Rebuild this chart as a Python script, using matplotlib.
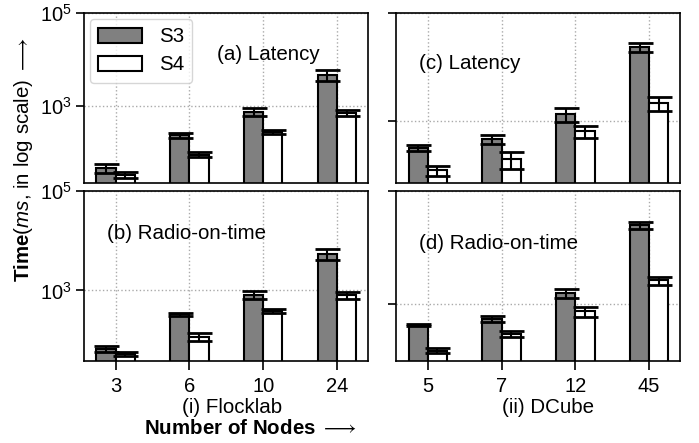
import matplotlib
matplotlib.use('Agg')
import matplotlib.pyplot as plt
import numpy as np

plt.rcParams['font.family'] = ['Liberation Sans', 'DejaVu Sans']
plt.rcParams['mathtext.fontset'] = 'custom'
plt.rcParams['mathtext.rm'] = 'Liberation Sans'
plt.rcParams['mathtext.it'] = 'Liberation Sans:italic'
plt.rcParams['mathtext.bf'] = 'Liberation Sans:bold'

# node counts per testbed
flock_nodes = ['3', '6', '10', '24']
dcube_nodes = ['5', '7', '12', '45']

# (a) flocklab latency
lat_fl_s3 = [46, 236, 740, 4560]
lat_fl_s3_err = [9.5, 29, 150, 1220]
lat_fl_s4 = [33, 89, 276, 714]
lat_fl_s4_err = [4.7, 12, 27, 106]

# (b) flocklab radio-on-time
rot_fl_s3 = [67, 330, 815, 5490]
rot_fl_s3_err = [10, 28, 155, 1320]
rot_fl_s4 = [53.5, 118, 391, 803]
rot_fl_s4_err = [5, 22, 39, 122]

# (c) dcube latency
lat_dc_s3 = [318, 462, 1360, 23100]
lat_dc_s3_err = [40, 88, 404, 4600]
lat_dc_s4 = [121, 199, 645, 2100]
lat_dc_s4_err = [25, 70, 162, 610]

# (d) dcube radio-on-time
rot_dc_s3 = [423, 538, 1570, 24670]
rot_dc_s3_err = [20, 65, 293, 3330]
rot_dc_s4 = [148, 289, 746, 2600]
rot_dc_s4_err = [15, 35, 150, 400]

fig, axes = plt.subplots(2, 2, figsize=(6.99, 4.43), dpi=100)
plt.subplots_adjust(left=0.120, right=0.973, top=0.971, bottom=0.185,
                    wspace=0.099, hspace=0.047)

w = 0.26
x = np.arange(4)
fs = 14.8

panels = [
    (axes[0, 0], lat_fl_s3, lat_fl_s3_err, lat_fl_s4, lat_fl_s4_err, '(a) Latency', (0.47, 0.725), 21.8),
    (axes[1, 0], rot_fl_s3, rot_fl_s3_err, rot_fl_s4, rot_fl_s4_err, '(b) Radio-on-time', (0.08, 0.72), 38),
    (axes[0, 1], lat_dc_s3, lat_dc_s3_err, lat_dc_s4, lat_dc_s4_err, '(c) Latency', (0.08, 0.67), 70.6),
    (axes[1, 1], rot_dc_s3, rot_dc_s3_err, rot_dc_s4, rot_dc_s4_err, '(d) Radio-on-time', (0.08, 0.66), 97),
]

ekw = dict(elinewidth=1.5, capthick=2, ecolor='black')
for ax, s3, e3, s4, e4, title, pos, ymin in panels:
    ax.set_yscale('log')
    ax.bar(x - w / 2, s3, w, yerr=e3, color='#808080', edgecolor='black',
           linewidth=1.5, capsize=9, error_kw=ekw, label='S3')
    ax.bar(x + w / 2, s4, w, yerr=e4, color='white', edgecolor='black',
           linewidth=1.5, capsize=9, error_kw=ekw, label='S4')
    ax.set_ylim(ymin, 1e5)
    ax.set_xlim(-0.43, 3.42)
    ax.set_yticks([1e3, 1e5])
    ax.yaxis.set_minor_locator(matplotlib.ticker.NullLocator())
    ax.set_xticks(x)
    ax.set_axisbelow(True)
    ax.grid(True, linestyle=':', color='#aaaaaa', linewidth=1)
    ax.text(pos[0], pos[1], title, transform=ax.transAxes, fontsize=fs)
    for sp in ax.spines.values():
        sp.set_linewidth(1.2)
    ax.tick_params(axis='y', length=6, width=1.2, labelsize=14.5, pad=2.5)
    ax.tick_params(axis='x', length=6.5, width=1.2, labelsize=14.5, pad=5)

for ax in axes[:, 1]:
    ax.set_yticklabels([])
for ax in axes[0, :]:
    ax.tick_params(axis='x', length=0, labelbottom=False)

axes[1, 0].set_xticklabels(flock_nodes)
axes[1, 1].set_xticklabels(dcube_nodes)
axes[1, 0].set_xlabel('(i) Flocklab', fontsize=fs)
axes[1, 1].set_xlabel('(ii) DCube', fontsize=fs)
axes[1, 0].xaxis.set_label_coords(0.521, -0.215)
axes[1, 1].xaxis.set_label_coords(0.535, -0.215)

axes[0, 0].legend(loc='upper left', fontsize=fs, handlelength=2.15,
                  handleheight=0.75, borderaxespad=0.3, labelspacing=0.45)

fig.text(0.033, 0.64, r'$\mathbf{Time}$($\mathit{ms}$, in log scale) $\longrightarrow$',
         rotation=90, ha='center', va='center', fontsize=fs)
fig.text(0.358, 0.033, r'$\mathbf{Number\ of\ Nodes}$ $\longrightarrow$',
         ha='center', va='center', fontsize=fs)

plt.savefig('out.png', format='png')
plt.close()
